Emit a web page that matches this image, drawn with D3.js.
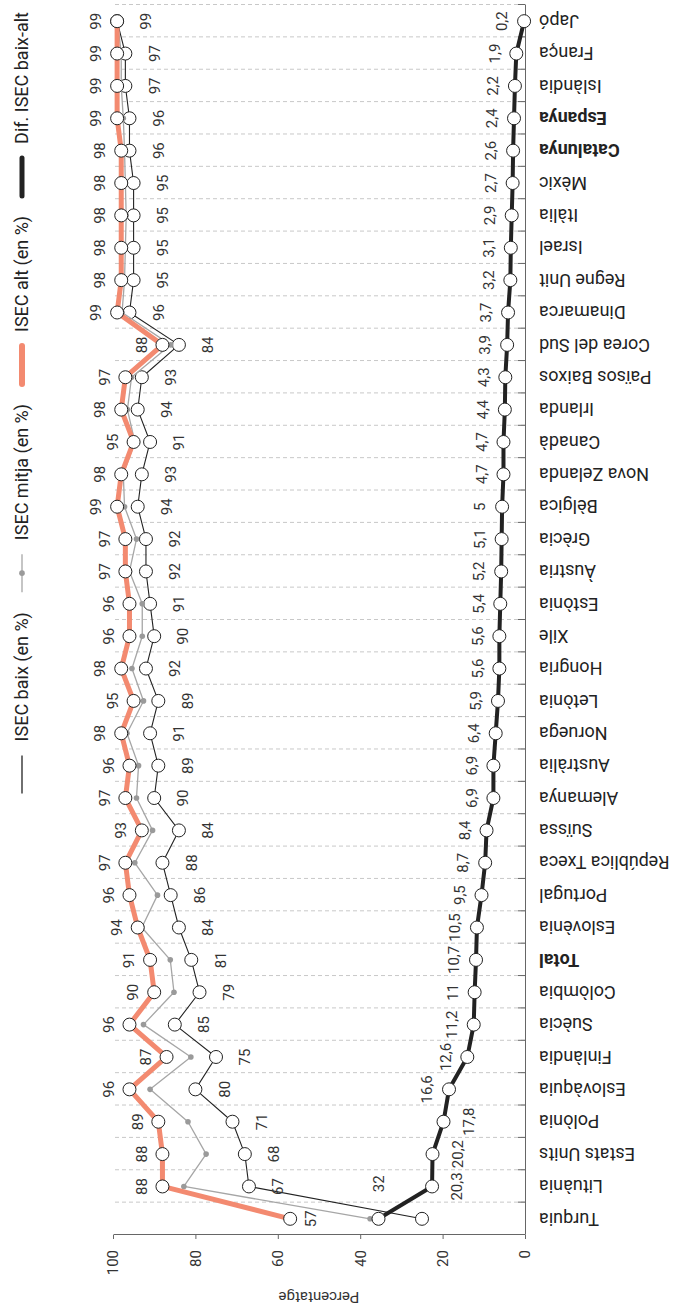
<!DOCTYPE html>
<html>
<head>
<meta charset="utf-8">
<script src="https://cdn.jsdelivr.net/npm/d3@7"></script>
<style>
  body { margin: 0; background: #fff; }
  text { font-family: Roboto, "Noto Sans", sans-serif; }
</style>
</head>
<body>
<svg id="chart" width="679" height="1305"></svg>
<script>
// categories, from left to right of the (unrotated) chart
const countries = ["Turquia", "Lituània", "Estats Units", "Polònia", "Eslovàquia", "Finlàndia",
  "Suècia", "Colòmbia", "Total", "Eslovènia", "Portugal", "República Txeca", "Suïssa",
  "Alemanya", "Austràlia", "Noruega", "Letònia", "Hongria", "Xile", "Estònia", "Àustria",
  "Grècia", "Bèlgica", "Nova Zelanda", "Canadà", "Irlanda", "Països Baixos", "Corea del Sud",
  "Dinamarca", "Regne Unit", "Israel", "Itàlia", "Mèxic", "Catalunya", "Espanya", "Islàndia",
  "França", "Japó"];

const isecBaix = [25, 67, 68, 71, 80, 75, 85, 79, 81, 84, 86, 88, 84, 90, 89, 91, 89, 92, 90, 91,
  92, 92, 94, 93, 91, 94, 93, 84, 96, 95, 95, 95, 95, 96, 96, 97, 97, 99];

const isecMitja = [37.6, 82.8, 77.4, 81.8, 91, 81.1, 92.6, 85.2, 86.1, 93, 89.2, 94.7, 90.4,
  94.3, 93.8, 96.6, 92.6, 95.4, 92.9, 92.9, 96, 94.3, 97.2, 97.5, 94.7, 96.5, 95.5, 86,
  97.8, 97.2, 97, 96.8, 97, 97.2, 97.5, 98, 98, 98.9];

const isecAlt = [57, 88, 88, 89, 96, 87, 96, 90, 91, 94, 96, 97, 93, 97, 96, 98, 95, 98, 96, 96,
  97, 97, 99, 98, 95, 98, 97, 88, 99, 98, 98, 98, 98, 98, 99, 99, 99, 99];

const difBaixAlt = [32, 20.3, 20.2, 17.8, 16.6, 12.6, 11.2, 11, 10.7, 10.5, 9.5, 8.7, 8.4, 6.9,
  6.9, 6.4, 5.9, 5.6, 5.6, 5.4, 5.2, 5.1, 5, 4.7, 4.7, 4.4, 4.3, 3.9, 3.7, 3.2, 3.1, 2.9, 2.7,
  2.6, 2.4, 2.2, 1.9, 0.2];

const yTicks = [0, 20, 40, 60, 80, 100];
const boldCountries = ["Total", "Catalunya", "Espanya"];
const legendLabels = ["ISEC baix (en %)", "ISEC mitja (en %)", "ISEC alt (en %)", "Dif. ISEC baix-alt"];

const W = 1305; // the chart is drawn lying down and turned a quarter
const orange = "#f38a70";
const n = countries.length;

const svg = d3.select("svg#chart");
const g = svg.append("g").attr("transform", "translate(0," + W + ") rotate(-90)");

const x = d3.scaleBand().domain(countries).range([70, 1300]);
const xEdge = d3.scaleLinear().domain([0, n]).range(x.range());
const y = d3.scaleLinear().domain([0, 100]).range([525, 113]);
const yDif = d3.scaleLinear().domain([0, 90]).range([525, 113]); // hidden second axis

function cx(i) { return x(countries[i]) + x.bandwidth() / 2; }
function translate(a, b) { return "translate(" + a + "," + b + ")"; }
function fmt(v) { return String(v).replace(".", ","); }

// dashed grid between the categories
const grid = g.append("g")
  .attr("transform", translate(0, 525))
  .call(d3.axisBottom(xEdge).tickValues(d3.range(n + 1)).tickSize(-(525 - 113)).tickFormat(""));
grid.select(".domain").remove();
grid.selectAll("line").attr("stroke", "#c8c8c8").attr("stroke-dasharray", "4,3");

// category axis with ticks on the band edges
const catAxis = g.append("g")
  .attr("transform", translate(0, 525))
  .call(d3.axisBottom(xEdge).tickValues(d3.range(n + 1)).tickSizeInner(-7).tickSizeOuter(0).tickFormat(""));
catAxis.selectAll("path, line").attr("stroke", "#666");

const catLabels = g.append("g")
  .attr("transform", translate(0, 525))
  .call(d3.axisBottom(x).tickSize(0));
catLabels.select(".domain").remove();
catLabels.selectAll("text")
  .attr("transform", "rotate(-90)")
  .attr("text-anchor", "end")
  .attr("x", -14)
  .attr("y", 0)
  .attr("dy", "0.35em")
  .style("font-size", "18px")
  .style("font-family", "Roboto, sans-serif")
  .style("font-weight", d => boldCountries.includes(d) ? "bold" : "normal")
  .attr("fill", "#222");

// value axis
const yAxis = g.append("g")
  .attr("transform", translate(70, 0))
  .call(d3.axisLeft(y).tickValues(yTicks).tickSizeInner(4).tickSizeOuter(0).tickPadding(11));
yAxis.selectAll("path, line").attr("stroke", "#666");
yAxis.selectAll("text")
  .style("font-size", "15px")
  .style("font-family", "Roboto, sans-serif")
  .attr("fill", "#333");

g.append("text")
  .attr("transform", translate(13, (y(0) + y(100)) / 2) + " rotate(-90)")
  .attr("text-anchor", "middle")
  .style("font-size", "15px")
  .attr("fill", "#333")
  .text("Percentatge");

// series
const series = [
  { key: "baix", values: isecBaix, scale: y, color: "#222", width: 1.1, marker: "circle" },
  { key: "mitja", values: isecMitja, scale: y, color: "#a6a6a6", width: 1.3, marker: "dot" },
  { key: "alt", values: isecAlt, scale: y, color: orange, width: 5, marker: "circle" },
  { key: "dif", values: difBaixAlt, scale: yDif, color: "#222", width: 4, marker: "circle" }
];

function labelOffset(key, country) {
  if (key === "alt") return country === "Turquia" ? [0, 21] : [0, -21];
  if (key === "baix") return [0, 29];
  if (key === "dif") {
    if (country === "Turquia") return [35, 0];
    if (["Lituània", "Estats Units", "Polònia"].includes(country)) return [0, 25];
    return [0, -22];
  }
  return null;
}

series.forEach(function(s) {
  const line = d3.line()
    .x((d, i) => cx(i))
    .y(d => s.scale(d));

  const sg = g.append("g").attr("class", "series-" + s.key);

  sg.append("path")
    .datum(s.values)
    .attr("d", line)
    .attr("fill", "none")
    .attr("stroke", s.color)
    .attr("stroke-width", s.width)
    .attr("stroke-linejoin", "round");

  if (s.marker === "dot") {
    sg.selectAll("circle")
      .data(s.values)
      .join("circle")
      .attr("cx", (d, i) => cx(i))
      .attr("cy", d => s.scale(d))
      .attr("r", 2.8)
      .attr("fill", "#9a9a9a");
    return;
  }

  sg.selectAll("circle")
    .data(s.values)
    .join("circle")
    .attr("cx", (d, i) => cx(i))
    .attr("cy", d => s.scale(d))
    .attr("r", 6.5)
    .attr("fill", "#fff")
    .attr("stroke", "#222")
    .attr("stroke-width", 1);

  s.labelData = s.values.map((d, i) => ({ v: d, i: i, c: countries[i] }))
    .filter(d => !(s.key === "baix" && d.c === "Turquia"));
});

// value labels on top of everything
series.filter(s => s.labelData).forEach(function(s) {
  g.append("g").selectAll("text")
    .data(s.labelData)
    .join("text")
    .attr("x", d => cx(d.i) + labelOffset(s.key, d.c)[0])
    .attr("y", d => s.scale(d.v) + labelOffset(s.key, d.c)[1])
    .attr("dy", "0.35em")
    .attr("text-anchor", "middle")
    .style("font-size", "15px")
    .attr("fill", "#333")
    .text(d => fmt(d.v));
});

// legend, right aligned along the top
const legend = g.append("g").attr("transform", translate(0, 22));
let pos = 0;
const items = [];
legendLabels.forEach(function(lab, k) {
  const s = series[k];
  const it = legend.append("g");
  it.append("line")
    .attr("x1", 0).attr("x2", 38)
    .attr("stroke", s.color)
    .attr("stroke-width", s.key === "baix" ? 1.3 : s.key === "mitja" ? 1.3 : s.width + 1)
    .attr("stroke-linecap", s.width > 2 ? "round" : "butt");
  if (s.marker === "dot") {
    it.append("circle").attr("cx", 19).attr("r", 2.8).attr("fill", "#9a9a9a");
  }
  const t = it.append("text")
    .attr("x", 52)
    .attr("dy", "0.35em")
    .style("font-size", "18px")
    .attr("fill", "#222")
    .text(lab);
  const w = 52 + t.node().getComputedTextLength();
  items.push({ node: it, start: pos });
  pos += w + 20;
});
const legendRight = 1293;
const shift = legendRight - (pos - 20);
items.forEach(d => d.node.attr("transform", translate(shift + d.start, 0)));
</script>
</body>
</html>
